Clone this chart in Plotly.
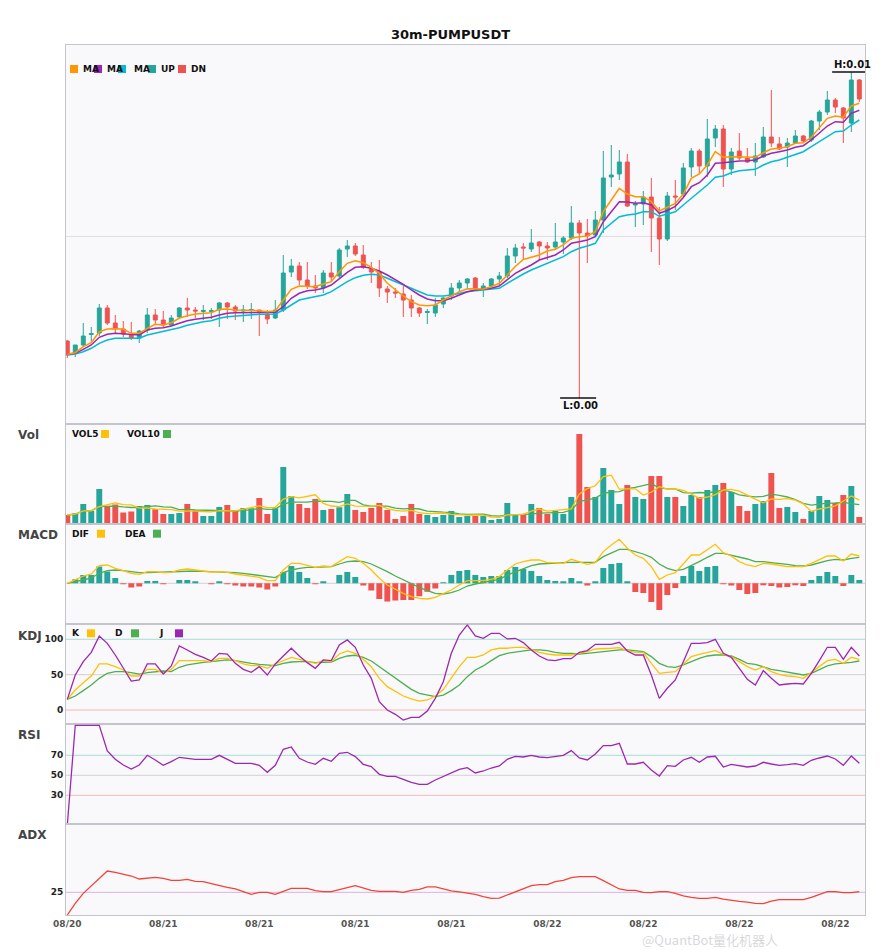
"""30m-PUMPUSDT candles with Vol / MACD / KDJ / RSI / ADX panels (plotly)"""
import plotly.graph_objects as go
from plotly.subplots import make_subplots

TITLE = "30m-PUMPUSDT"
tick_labels = ["08/20", "08/21", "08/21", "08/21", "08/21", "08/22", "08/22", "08/22", "08/22"]
tick_step = 12

# prices, in units of 1e-5 USDT
PRICE_UNIT = 1e-5
open_e5 = [259, 247, 255, 265.5, 267, 292, 277, 271, 265, 262,
           270, 285, 280, 275, 283, 292, 290, 288.5, 288.5, 290,
           297, 293, 289, 289.5, 290, 286, 282, 290, 328, 334,
           320, 314, 312, 327, 324, 351, 354, 345, 331, 328,
           311, 308, 306, 300, 292, 287.5, 287, 296, 304, 312,
           317, 322, 311, 314, 321, 324, 344, 353, 351, 358,
           354, 353, 358, 362, 377, 367, 365, 380, 423, 426,
           438, 395, 396, 403, 382, 361, 404, 406, 433, 449,
           434, 462, 471, 431, 449, 442, 438, 443, 463, 456,
           453, 457, 464, 460, 479, 488, 500, 492, 477, 520]
high_e5 = [260, 255, 277, 273, 296, 295, 285, 279, 278, 270,
           292, 291, 289, 285, 293, 302, 293, 295, 292, 298,
           298, 295, 295, 297, 290, 290, 300, 345, 341, 338,
           338, 325, 330, 338, 352, 360, 357, 355, 338, 340,
           314, 312, 314, 305, 293, 291, 302, 303, 317, 320,
           322, 323, 317, 322, 328, 352, 356, 357, 371, 359,
           358, 377, 364, 394, 380, 381, 389, 449, 455, 450,
           446, 399, 409, 422, 393, 408, 420, 437, 452, 451,
           481, 475, 475, 452, 467, 452, 457, 473, 510, 463,
           462, 470, 465, 480, 490, 509, 502, 493, 528, 521]
low_e5 = [242, 243, 253, 258, 264, 275, 267, 263, 260, 257,
          267, 276, 272, 274, 282, 283, 282, 280, 281, 273,
          281, 280, 278, 281, 264, 276, 281, 288, 323, 315,
          311, 307, 307, 318, 322, 343, 344, 331, 317, 303,
          297, 302, 283, 283, 283, 276, 283, 292, 300, 308,
          311, 309, 303, 312, 315, 322, 337, 340, 348, 340,
          340, 350, 346, 360, 202, 337, 363, 367, 413, 420,
          393, 373, 375, 348, 335, 359, 390, 403, 423, 426,
          423, 453, 413, 425, 440, 437, 424, 442, 453, 450,
          433, 456, 457, 458, 470, 485, 487, 457, 468, 498]
close_e5 = [245, 255, 264, 266.5, 292, 277, 271, 266, 262, 269,
            285, 280, 275, 282, 292, 290, 289, 289.5, 289.5, 297,
            293, 289, 290, 290.5, 288, 281, 290, 327, 334, 320,
            314, 312, 327, 323, 350, 354, 346, 333, 328, 312,
            308, 307, 300, 292, 287, 288.5, 295, 302, 312, 317,
            321, 311, 314, 321, 324, 344, 352, 352, 357, 354,
            352, 358, 362, 377, 367, 364, 380, 422, 425, 438,
            394, 396, 403, 382, 361, 404, 403, 432, 449, 434,
            461, 471, 431, 448, 442, 438, 444, 463, 457, 451,
            457, 464, 459, 479, 488, 500, 493, 482, 520, 501]

# the three MA lines (orange / purple / cyan)
ma_fast_e5 = [245.7, 247.3, 253.3, 257.3, 268.3, 271.0, 271.3, 271.0, 266.7, 266.7,
              271.7, 275.7, 275.0, 277.3, 281.7, 284.3, 286.0, 286.7, 287.3, 290.7,
              291.0, 290.0, 289.7, 289.7, 289.3, 288.3, 289.3, 300.0, 310.7, 314.0,
              314.0, 313.3, 316.0, 318.3, 328.3, 336.7, 339.3, 337.3, 332.7, 326.7,
              316.7, 310.0, 304.0, 298.3, 295.0, 294.3, 295.0, 300.0, 304.0, 308.3,
              311.3, 311.0, 311.0, 313.3, 316.7, 325.0, 333.5, 340.5, 343.0, 345.0,
              349.0, 350.7, 355.0, 361.7, 363.3, 364.0, 368.3, 388.3, 400.0, 411.7,
              406.0, 403.3, 403.3, 398.3, 389.0, 393.0, 396.5, 406.0, 421.7, 426.0,
              435.0, 448.3, 442.7, 443.3, 443.3, 442.7, 442.7, 447.3, 451.0, 451.7,
              453.3, 456.7, 457.3, 462.7, 472.7, 481.7, 484.0, 482.7, 494.0, 496.7]
ma_mid_e5 = [245.7, 246.7, 250.7, 255.0, 262.7, 265.7, 266.7, 266.0, 265.0, 265.0,
             270.0, 271.7, 272.3, 274.0, 276.7, 279.3, 280.7, 281.7, 282.7, 285.0,
             286.7, 287.3, 287.3, 287.3, 287.3, 287.3, 287.7, 293.3, 301.7, 306.7,
             309.3, 310.0, 311.7, 315.0, 321.7, 327.7, 332.7, 333.3, 331.7, 329.0,
             325.0, 320.7, 315.7, 310.0, 305.0, 301.0, 299.3, 299.3, 301.7, 305.0,
             308.3, 310.0, 310.7, 311.7, 314.0, 320.0, 326.7, 331.0, 335.0, 340.0,
             342.7, 345.0, 350.0, 356.7, 358.3, 360.0, 363.3, 378.3, 388.3, 398.3,
             398.0, 396.7, 397.3, 395.0, 386.7, 389.5, 393.7, 402.5, 413.3, 417.3,
             425.0, 436.7, 437.3, 438.3, 439.0, 439.3, 440.0, 444.0, 446.7, 448.3,
             450.0, 452.7, 454.3, 460.0, 467.3, 474.0, 478.3, 477.7, 486.7, 489.7]
ma_slow_e5 = [245.0, 246.0, 248.3, 251.7, 256.7, 260.0, 261.7, 261.7, 261.7, 261.7,
              265.0, 266.7, 268.3, 270.0, 272.3, 274.7, 276.7, 278.3, 279.3, 281.7,
              283.3, 284.0, 285.0, 285.7, 285.7, 285.7, 286.0, 290.0, 295.0, 300.0,
              301.7, 303.3, 305.0, 308.3, 313.3, 318.3, 322.3, 324.7, 325.7, 325.0,
              321.7, 318.3, 315.0, 311.7, 308.3, 305.0, 304.0, 304.0, 305.0, 306.7,
              308.3, 309.3, 310.0, 310.7, 311.7, 316.7, 321.7, 326.0, 330.0, 333.3,
              337.3, 340.0, 343.3, 348.3, 351.7, 354.0, 356.7, 370.0, 376.7, 383.3,
              385.0, 386.0, 388.3, 388.3, 383.7, 386.0, 388.3, 395.0, 401.7, 408.3,
              415.0, 422.7, 424.0, 427.3, 429.3, 430.0, 430.7, 435.0, 438.3, 440.0,
              442.7, 445.0, 448.3, 453.3, 458.3, 464.0, 468.3, 469.0, 475.0, 480.0]
price_grid_e5 = 364

# volume (millions) and its two averages
volume = [9.3, 11, 20.3, 13.3, 35.3, 18.3, 19.7, 11.7, 12.7, 18.3,
          19.3, 15, 10.3, 10.3, 11.3, 20.3, 13.7, 8.3, 8.3, 17.3,
          19.3, 14.3, 16.3, 16, 26.3, 10.3, 16, 57.3, 28.3, 20.3,
          16.3, 25.3, 14.3, 15.3, 17, 30.3, 14.3, 12.3, 16.3, 21.3,
          14.3, 5.3, 8.3, 20.3, 10.3, 9.3, 7.3, 9.3, 13.3, 7.3,
          8.3, 8.3, 8.3, 4.3, 5.3, 21.3, 9.3, 9.3, 20.3, 16.3,
          10.3, 13.3, 10.3, 27.3, 90.3, 37.3, 27.3, 56.3, 34.3, 20.3,
          39.3, 27.3, 25.3, 48.3, 48.3, 27.3, 27.3, 18.3, 29.3, 27.3,
          34.3, 39.3, 41.3, 32.3, 18.3, 13.3, 20.3, 23.3, 51.3, 16.3,
          17.3, 12.3, 5.3, 13.3, 28.3, 24.3, 21.3, 29.3, 38.3, 7.3]
vol5 = [9.3, 10.2, 13.5, 13.5, 17.8, 19.6, 21.4, 19.7, 19.5, 16.1,
        16.3, 15.4, 15.1, 14.6, 13.2, 13.4, 13.2, 12.8, 12.4, 13.6,
        13.4, 13.5, 15.1, 16.6, 18.4, 16.6, 17.0, 25.2, 27.6, 26.4,
        27.6, 29.5, 20.9, 18.3, 17.6, 20.4, 18.2, 17.8, 18.0, 18.9,
        15.7, 13.9, 13.1, 13.9, 11.7, 10.7, 11.1, 11.3, 9.9, 9.3,
        9.1, 9.3, 9.1, 7.3, 6.9, 9.5, 9.7, 9.9, 13.1, 15.3,
        13.1, 13.9, 14.1, 15.5, 30.3, 35.7, 38.5, 47.7, 49.1, 35.1,
        35.5, 35.5, 29.3, 32.1, 37.7, 35.3, 35.3, 33.9, 30.1, 25.9,
        27.3, 29.7, 34.3, 34.9, 33.1, 28.9, 25.1, 21.5, 25.3, 24.9,
        25.7, 24.1, 20.5, 12.9, 15.3, 16.7, 18.5, 23.3, 28.3, 24.1]
vol10 = [9.3, 10.2, 13.5, 13.5, 17.8, 17.9, 18.2, 17.4, 16.8, 17.0,
         18.0, 18.4, 17.4, 17.1, 14.7, 14.9, 14.3, 14.0, 13.5, 13.4,
         13.4, 13.3, 13.9, 14.5, 16.0, 15.0, 15.2, 20.1, 22.1, 22.4,
         22.1, 23.2, 23.0, 23.0, 22.0, 24.0, 23.9, 19.4, 18.2, 18.3,
         18.1, 16.1, 15.5, 16.0, 15.3, 13.2, 12.5, 12.2, 11.9, 10.5,
         9.9, 10.2, 10.2, 8.6, 8.1, 9.3, 9.5, 9.5, 10.2, 11.1,
         11.3, 11.8, 12.0, 14.3, 22.8, 24.4, 26.2, 30.9, 32.3, 32.7,
         35.6, 37.0, 38.5, 40.6, 36.4, 35.4, 35.4, 31.6, 31.1, 31.8,
         31.3, 32.5, 34.1, 32.5, 29.5, 28.1, 27.4, 27.9, 30.1, 29.0,
         27.3, 24.6, 21.0, 19.1, 20.1, 21.2, 21.3, 21.9, 20.6, 19.7]

# MACD (1e-6 USDT)
macd_hist = [0, 4, 8.3, 8.3, 16.7, 11.7, 5.3, -0.7, -4.3, -3.3,
             2.3, 2.3, -0.7, 0, 3.3, 3.3, 1.3, 0, -0.7, 1.3,
             -0.7, -2.3, -3.3, -3.3, -4.3, -6.3, -3.3, 11.3, 17.3, 11.3,
             5.3, -0.7, 2, 0, 8.3, 11.3, 6.3, -2.3, -7.3, -15.7,
             -18.3, -17.3, -16.7, -16.7, -13, -8.5, -5.3, 1, 8.3, 12.3,
             13.3, 8.3, 6.3, 7.3, 7.3, 13.3, 16.3, 14.3, 12.3, 7.3,
             3.3, 2.3, 1.3, 5.3, 1.3, -2.3, 1.3, 15.3, 19.3, 20.3,
             1.3, -8.7, -9.7, -18.7, -26.7, -11.7, -4.7, 7.3, 17.3, 12.3,
             16.3, 17.3, -0.7, -2.3, -6.7, -10.7, -9.7, -1.3, -2.7, -4.3,
             -3.7, -1.3, -2.7, 3.3, 7.3, 11.3, 7.3, -2.7, 8.3, 3.3]
dif = [0, 4, 7.3, 9.3, 17.7, 18.3, 15, 12.7, 10, 9,
       11.7, 11.7, 10.7, 11, 13.3, 14.3, 13.3, 11.7, 11.3, 11.7,
       11, 9.3, 8.3, 7.3, 6, 2.7, 2.7, 13.3, 20, 20,
       18.3, 16, 17.3, 16.7, 21.7, 26.7, 25, 20, 13.3, 5,
       -1.7, -6, -10, -13.3, -15, -15.7, -14, -10.3, -6.7, -1.7,
       2.7, 2.7, 2.7, 4, 6.7, 13.3, 19.3, 21.7, 23.3, 23.3,
       20.7, 20.7, 20, 24, 21.7, 19, 20.7, 31.7, 38.3, 44,
       35, 28.3, 25, 16.7, 4, 8.3, 10.7, 20, 28.3, 28.3,
       34, 39, 30.7, 27.3, 21.7, 18.3, 16.7, 20, 19.3, 17.7,
       16.7, 16.7, 16.7, 20, 24, 27.3, 27.3, 22.3, 29.3, 27.3]
dea = [0, 1.3, 3.3, 5.3, 10, 12.7, 13.3, 12.7, 11.7, 10.7,
       10.7, 11, 11, 11, 11.7, 12.3, 12.3, 12, 11.7, 11.7,
       11.3, 10.7, 10, 9, 8.3, 6.7, 5.7, 10.7, 13.3, 15,
       16, 16, 16.7, 16.7, 19.3, 21.7, 22.3, 21.7, 19.3, 15.7,
       11.7, 7.3, 3.3, -0.7, -4, -7.3, -10, -10.7, -9.3, -6.7,
       -2.7, -0.7, 0.7, 2.3, 4, 8.3, 11.7, 15, 17.7, 19.3,
       20, 20.7, 20.7, 21, 21, 21, 21, 26.7, 30, 34,
       34, 31.7, 29.3, 26, 19.3, 15, 12.7, 14, 17.7, 21.7,
       26, 30, 30, 28.3, 26.7, 24.3, 21.7, 21.7, 20.7, 20,
       19, 17.7, 17.3, 18.3, 20.7, 22.7, 24, 23.3, 25, 26]

k_line = [15.1, 28.3, 38.7, 48.1, 65.1, 65.1, 61.3, 56.6, 48.1, 48.1,
          57.5, 57.5, 51.9, 57.5, 69.8, 69.8, 69.8, 69.8, 68.4, 73.1,
          73.1, 69.8, 65.1, 62.7, 62.7, 59.0, 65.1, 69.8, 74.5, 71.7,
          68.4, 66.0, 69.8, 68.4, 79.2, 83.5, 80.2, 71.7, 61.3, 44.8,
          33.0, 25.9, 19.8, 15.6, 12.7, 14.2, 19.8, 29.0, 44.8, 61.3,
          74.5, 74.5, 77.8, 84.9, 87.3, 87.3, 88.7, 88.7, 85.8, 81.6,
          79.2, 77.8, 77.8, 77.8, 80.2, 82.5, 86.3, 87.3, 87.3, 88.2,
          84.0, 81.6, 81.6, 66.0, 51.9, 53.3, 54.2, 64.6, 75.5, 78.8,
          81.6, 84.0, 78.8, 75.5, 68.4, 61.3, 56.6, 61.3, 54.2, 50.5,
          48.1, 47.2, 44.8, 52.8, 61.3, 69.8, 71.7, 66.0, 74.5, 71.7]
d_line = [15.1, 19.8, 27.4, 35.4, 44.8, 51.9, 54.2, 54.2, 52.8, 50.9,
          52.8, 54.2, 55.2, 54.2, 60.4, 63.7, 66.0, 67.5, 68.4, 69.8,
          70.8, 69.8, 67.5, 66.0, 64.6, 63.7, 62.7, 66.0, 67.9, 68.4,
          68.4, 67.0, 67.9, 67.9, 73.1, 76.4, 77.4, 74.5, 69.3, 61.3,
          52.8, 44.8, 36.8, 29.2, 23.6, 20.8, 18.9, 21.2, 27.4, 35.4,
          47.2, 56.6, 62.3, 69.8, 76.9, 80.2, 82.1, 83.5, 84.9, 84.9,
          84.0, 81.6, 80.2, 80.2, 79.2, 80.2, 81.6, 82.5, 84.0, 84.9,
          84.9, 84.0, 82.5, 75.5, 66.0, 61.3, 60.4, 63.7, 68.4, 73.1,
          76.4, 77.8, 77.8, 76.4, 71.7, 66.0, 64.6, 61.3, 57.5, 55.7,
          53.3, 50.9, 49.5, 51.9, 56.6, 62.3, 65.1, 66.0, 67.5, 69.3]
j_line = [15.1, 49.5, 68.4, 81.6, 104.7, 94.3, 77.8, 59.0, 41.0, 42.5,
          65.1, 65.1, 50.9, 62.3, 90.6, 84.9, 78.8, 74.5, 69.3, 80.2,
          79.2, 66.0, 57.5, 53.3, 61.3, 49.5, 65.1, 76.4, 87.3, 76.4,
          67.0, 59.0, 70.8, 69.8, 92.0, 99.1, 88.7, 63.7, 44.8, 11.8,
          0.0, -6.1, -14.2, -10.4, -10.4, -1.4, 16.5, 40.0, 80.2, 106.1,
          120.3, 104.7, 101.4, 108.5, 108.5, 100.5, 101.4, 95.3, 84.9, 76.4,
          70.8, 69.8, 72.6, 72.6, 81.6, 84.0, 92.9, 92.9, 92.9, 95.8,
          83.5, 77.8, 77.8, 49.5, 16.5, 30.7, 42.5, 68.4, 94.3, 94.3,
          95.3, 100.0, 80.2, 74.5, 59.0, 43.4, 35.4, 55.7, 44.8, 35.4,
          36.8, 37.7, 36.8, 51.9, 69.8, 88.7, 88.7, 71.7, 88.7, 76.4]

rsi = [0, 100, 100, 100, 100, 74.3, 66, 60.3, 56.3, 60.3,
       70, 65.3, 60, 63.7, 68, 67, 66, 66, 66, 70,
       66, 62, 62, 62, 60, 53, 60, 76, 78.3, 67,
       63.3, 61, 67, 64, 72, 73, 68.7, 61, 58.7, 51,
       49, 49, 46, 43, 41, 41, 45.3, 48.7, 52.7, 56,
       57.7, 52.3, 54.3, 57.3, 59.3, 66, 69, 68.3, 70, 68.3,
       67.7, 69, 70, 74.7, 67.3, 65.3, 71.3, 79.7, 79.7, 82,
       61.3, 61.3, 63, 55.3, 49.3, 59.7, 59, 65.3, 68, 63,
       68.3, 69, 58.3, 61, 59.7, 58.3, 59.3, 63, 61.3, 60,
       60.7, 61.7, 60, 65, 67.3, 69.3, 66.3, 60, 69.3, 62]

adx = [0, 12.9, 23.9, 32, 40.4, 48.5, 47.1, 45.2, 43, 39.7,
       40.4, 41.5, 40.4, 38.2, 38.2, 39.3, 37.1, 36.8, 34.6, 32.3,
       30.5, 28.7, 25.7, 22.8, 25, 25, 22.8, 26.5, 29.4, 29.4,
       29.4, 26.8, 25.7, 25.7, 27.6, 30.1, 32.3, 30.1, 27.2, 26.1,
       26.1, 26.1, 25, 27.2, 28.3, 30.9, 30.9, 28.7, 26.5, 25.4,
       24.2, 22.8, 20.2, 18.4, 18.7, 22.1, 25, 28.3, 32.3, 33.5,
       33.5, 36.8, 38.2, 41.2, 42.3, 42.3, 42.3, 37.9, 33.1, 28.7,
       27.2, 27.2, 25, 24.6, 25.7, 25.7, 23.9, 21, 19.5, 18.4,
       18.4, 19.5, 17.6, 16.2, 15.1, 14.3, 12.9, 12.5, 15.4, 16.9,
       16.9, 16.9, 16.9, 19.5, 22.8, 25.7, 25.7, 24.6, 24.6, 25.7]

UP = "#26a69a"
DN = "#ef5350"
ORANGE = "#ff9800"
PURPLE = "#9c27b0"
CYAN = "#00bcd4"
YELLOW = "#ffc107"
GREEN = "#4caf50"
BORDER = "#c4c4cc"
FONT = "DejaVu Sans"

opens = [v * PRICE_UNIT for v in open_e5]
highs = [v * PRICE_UNIT for v in high_e5]
lows = [v * PRICE_UNIT for v in low_e5]
closes = [v * PRICE_UNIT for v in close_e5]
x = list(range(len(closes)))

fig = make_subplots(rows=6, cols=1, shared_xaxes=True, vertical_spacing=0,
                    row_heights=[379.3, 100, 100, 100, 100, 90.7])

# --- price panel
fig.add_trace(go.Candlestick(
    x=x, open=opens, high=highs, low=lows, close=closes,
    increasing=dict(line=dict(color=UP, width=1), fillcolor=UP),
    decreasing=dict(line=dict(color=DN, width=1), fillcolor=DN),
    whiskerwidth=0, hoverinfo="skip",
), row=1, col=1)
for vals, color in [(ma_slow_e5, CYAN), (ma_mid_e5, PURPLE), (ma_fast_e5, ORANGE)]:
    fig.add_trace(go.Scatter(x=x, y=[v * PRICE_UNIT for v in vals], mode="lines",
                             line=dict(color=color, width=1.5)), row=1, col=1)

# --- volume
bar_colors = [UP if c >= o else DN for o, c in zip(opens, closes)]
fig.add_trace(go.Bar(x=x, y=volume, marker_color=bar_colors, marker_line_width=0, width=0.74),
              row=2, col=1)
fig.add_trace(go.Scatter(x=x, y=vol10, mode="lines", line=dict(color=GREEN, width=1.3)), row=2, col=1)
fig.add_trace(go.Scatter(x=x, y=vol5, mode="lines", line=dict(color=YELLOW, width=1.3)), row=2, col=1)

# --- MACD
hist_colors = [UP if h >= 0 else DN for h in macd_hist]
fig.add_trace(go.Bar(x=x, y=macd_hist, marker_color=hist_colors, marker_line_width=0, width=0.74),
              row=3, col=1)
fig.add_trace(go.Scatter(x=x, y=dea, mode="lines", line=dict(color=GREEN, width=1.3)), row=3, col=1)
fig.add_trace(go.Scatter(x=x, y=dif, mode="lines", line=dict(color=YELLOW, width=1.3)), row=3, col=1)

# --- KDJ / RSI / ADX
fig.add_trace(go.Scatter(x=x, y=d_line, mode="lines", line=dict(color=GREEN, width=1.3)), row=4, col=1)
fig.add_trace(go.Scatter(x=x, y=k_line, mode="lines", line=dict(color=YELLOW, width=1.3)), row=4, col=1)
fig.add_trace(go.Scatter(x=x, y=j_line, mode="lines", line=dict(color=PURPLE, width=1.3)), row=4, col=1)
fig.add_trace(go.Scatter(x=x, y=rsi, mode="lines", line=dict(color=PURPLE, width=1.3)), row=5, col=1)
fig.add_trace(go.Scatter(x=x, y=adx, mode="lines", line=dict(color="#f44336", width=1.3)), row=6, col=1)

# reference levels
LEVEL_HI, LEVEL_MID, LEVEL_LO = "#a9dcd5", "#d2d2d6", "#f6b8b8"
fig.add_hline(y=0, line=dict(color="#d2d2d6", width=1), layer="below", row=3, col=1)
for lvl, col in [(100, LEVEL_HI), (50, LEVEL_MID), (0, LEVEL_LO)]:
    fig.add_hline(y=lvl, line=dict(color=col, width=1), layer="below", row=4, col=1)
for lvl, col in [(70, LEVEL_HI), (50, LEVEL_MID), (30, LEVEL_LO)]:
    fig.add_hline(y=lvl, line=dict(color=col, width=1), layer="below", row=5, col=1)
fig.add_hline(y=25, line=dict(color="#dcb2e4", width=1), layer="below", row=6, col=1)

# axes
fig.update_xaxes(range=[-0.16, 99.71], showgrid=False, showline=True, mirror=True,
                 linecolor=BORDER, linewidth=1, ticks="", zeroline=False,
                 rangeslider_visible=False)
fig.update_xaxes(showticklabels=True, tickvals=[i * tick_step for i in range(len(tick_labels))],
                 ticktext=tick_labels, tickfont=dict(family=FONT, size=9, color="#555", weight="bold"),
                 row=6, col=1)
fig.update_yaxes(showgrid=False, showline=True, mirror=True, linecolor=BORDER, linewidth=1,
                 ticks="", zeroline=False, showticklabels=False)
tick_font = dict(family=FONT, size=9, color="#222", weight="bold")
fig.update_yaxes(range=[175.7 * PRICE_UNIT, 555 * PRICE_UNIT], tickvals=[price_grid_e5 * PRICE_UNIT],
                 showgrid=True, gridcolor="#dedee3", row=1, col=1)
fig.update_yaxes(range=[0, 100], row=2, col=1)
fig.update_yaxes(range=[-41, 59], row=3, col=1)
fig.update_yaxes(range=[-20.2, 121.2], tickvals=[0, 50, 100], showticklabels=True,
                 tickfont=tick_font, row=4, col=1)
fig.update_yaxes(range=[1, 101], tickvals=[30, 50, 70], showticklabels=True,
                 tickfont=tick_font, row=5, col=1)
fig.update_yaxes(range=[0, 100], tickvals=[25], showticklabels=True,
                 tickfont=tick_font, row=6, col=1)


# screen px -> paper coords (plot area spans x 66..865, y 45..915 on screen)
def px_x(px):
    return (px - 66) / 799


def px_y(py):
    return (915 - py) / 870


shapes = []
annotations = []

# high / low markers
hi = max(x, key=lambda i: highs[i])
lo = min(x, key=lambda i: lows[i])
for idx, val, label, anchor in [(hi, highs[hi], "H", "bottom"), (lo, lows[lo], "L", "top")]:
    shapes.append(dict(type="line", xref="x", yref="y", x0=idx - 2.4, x1=idx + 2.1,
                       y0=val, y1=val, line=dict(color="#111", width=1.5)))
    annotations.append(dict(xref="x", yref="y", x=idx + 0.2, y=val, yanchor=anchor,
                            text=f"<b>{label}:{val:.2f}</b>", showarrow=False,
                            font=dict(family=FONT, size=10, color="#111")))

# panel names
for name, py in [("Vol", 435), ("MACD", 535), ("KDJ", 636), ("RSI", 735), ("ADX", 835)]:
    annotations.append(dict(xref="paper", yref="paper", x=px_x(16), y=px_y(py), xanchor="left",
                            yanchor="middle", text=f"<b>{name}</b>", showarrow=False,
                            font=dict(family=FONT, size=12, color="#444")))

# in-panel legends: (text, text x, square x, colour)
legends = [
    (69, [("MA", 81, 70, ORANGE), ("MA", 105, 94, PURPLE), ("MA", 131.5, 118, CYAN),
          ("UP", 159, 148, UP), ("DN", 189, 178, DN)]),
    (434, [("VOL5", 70, 101, YELLOW), ("VOL10", 125, 163, GREEN)]),
    (533.7, [("DIF", 70, 97, YELLOW), ("DEA", 123, 153, GREEN)]),
    (633.3, [("K", 70, 87, YELLOW), ("D", 113, 131, GREEN), ("J", 157, 175, PURPLE)]),
]
for py, items in legends:
    for text, tx, sx, color in items:
        shapes.append(dict(type="rect", xref="paper", yref="paper", x0=px_x(sx), x1=px_x(sx + 8),
                           y0=px_y(py + 4), y1=px_y(py - 4), fillcolor=color, line=dict(width=0)))
        annotations.append(dict(xref="paper", yref="paper", x=px_x(tx), y=px_y(py), xanchor="left",
                                yanchor="middle", text=f"<b>{text}</b>", showarrow=False,
                                font=dict(family=FONT, size=9, color="#111")))

# faint watermark, kept just under the date labels
annotations.append(dict(xref="paper", yref="paper", x=px_x(640), y=px_y(939), xanchor="left",
                        yanchor="middle", text="@QuantBot量化机器人", showarrow=False,
                        font=dict(family="Noto Sans CJK SC", size=13, color="rgba(175,175,180,0.5)")))

fig.update_layout(
    width=885, height=950,
    margin=dict(l=58, r=28, t=37, b=43),
    paper_bgcolor="white", plot_bgcolor="#f9f9fb",
    showlegend=False,
    hovermode=False,
    font=dict(family=FONT, color="#333"),
    title=dict(text=f"<b>{TITLE}</b>", x=0.5, xref="container", xanchor="center",
               y=1 - 26 / 950, yref="container", yanchor="middle",
               font=dict(family=FONT, size=13, color="#111")),
    shapes=list(fig.layout.shapes) + shapes,
    annotations=annotations,
)

fig.write_html("out.html")
